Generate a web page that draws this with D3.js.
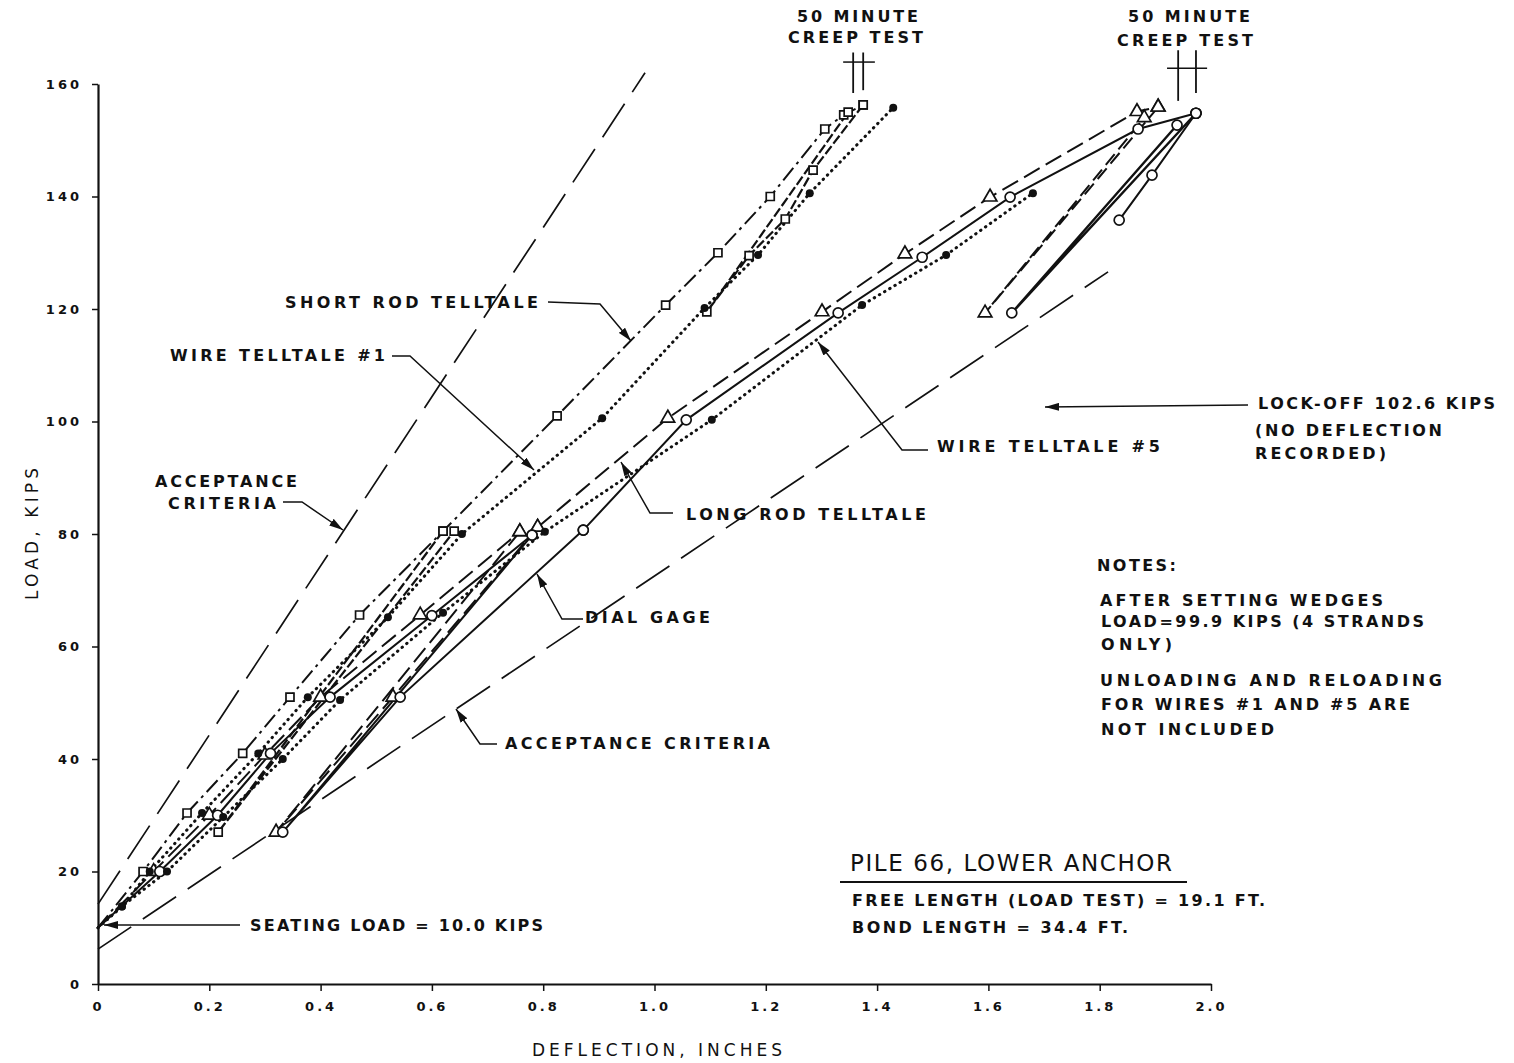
<!DOCTYPE html>
<html>
<head>
<meta charset="utf-8">
<script src="https://cdn.jsdelivr.net/npm/d3@7"></script>
<style>
  body { margin: 0; background: #fff; }
  text { font-family: "DejaVu Sans", sans-serif; fill: #111; }
  .lbl { font-weight: bold; font-size: 16px; }
  .tick text { font-weight: bold; font-size: 13px; letter-spacing: 3px; }
</style>
</head>
<body>
<script>
// ---- data (deflection in inches, load in kips) ----
const xTicks = [0, 0.2, 0.4, 0.6, 0.8, 1.0, 1.2, 1.4, 1.6, 1.8, 2.0];
const xTickLabels = ["0", "0.2", "0.4", "0.6", "0.8", "1.0", "1.2", "1.4", "1.6", "1.8", "2.0"];
const yTicks = [0, 20, 40, 60, 80, 100, 120, 140, 160];

const acceptUpper = [[0, 14.2], [0.983, 162]];
const acceptLower = [[0, 6.2], [1.815, 126.6]];

const shortRod = [[0, 10], [0.081, 20], [0.16, 30.4], [0.26, 41], [0.345, 51], [0.47, 65.6], [0.62, 80.5],
  [0.825, 101], [1.02, 120.7], [1.114, 130], [1.208, 140], [1.306, 152], [1.34, 154.5], [1.375, 156.3]];
const shortRodCycle1 = [[0.62, 80.5], [0.216, 27], [0.64, 80.5]];
const shortRodCycle2 = [[1.375, 156.3], [1.285, 144.7], [1.235, 136], [1.17, 129.5], [1.094, 119.5], [1.348, 155]];

const wire1 = [[0, 10], [0.043, 13.8], [0.093, 20], [0.187, 30.4], [0.288, 41], [0.377, 51], [0.521, 65.2],
  [0.654, 80], [0.906, 100.6], [1.09, 120.2], [1.186, 129.6], [1.279, 140.6], [1.429, 155.8]];

const longRod = [[0, 10], [0.1, 20], [0.2, 30], [0.3, 40.7], [0.4, 51], [0.579, 65.6], [0.758, 80.4]];
const longRodCycle1 = [[0.758, 80.4], [0.32, 27], [0.53, 51], [0.79, 81.2]];
const longRodReload = [[0.79, 81.2], [1.024, 100.6], [1.301, 119.5], [1.45, 129.8], [1.603, 139.9], [1.867, 155.1], [1.905, 155.9]];
const longRodCycle2 = [[1.905, 155.9], [1.594, 119.3], [1.88, 154]];

const dialGage = [[0, 10], [0.111, 20], [0.215, 30], [0.31, 41], [0.417, 51], [0.6, 65.5], [0.78, 79.8]];
const dialGageCycle1 = [[0.78, 79.8], [0.332, 27], [0.543, 51], [0.872, 80.7]];
const dialGageReload = [[0.872, 80.7], [1.057, 100.3], [1.33, 119.3], [1.481, 129.2], [1.639, 139.9], [1.869, 152], [1.973, 154.8]];
const dialGageUnload = [[1.973, 154.8], [1.894, 143.8], [1.835, 135.8]];
const dialGageCycle2 = [[1.973, 154.8], [1.642, 119.3], [1.939, 152.7]];

const wire5 = [[0, 10], [0.043, 13.8], [0.124, 20], [0.225, 29.7], [0.332, 40], [0.435, 50.5], [0.62, 66],
  [0.803, 80.4], [1.103, 100.3], [1.373, 120.7], [1.524, 129.6], [1.68, 140.6]];

// 50 minute creep test readings
const creepX = [1.357, 1.375, 1.941, 1.973];
const creepLow = [158.4, 158.9, 157.0, 158.4];
const creepHigh = [165.6, 165.6, 166.0, 166.0];
const creepBars = [[1.339, 1.396, 163.9], [1.921, 1.993, 162.8]];

// ---- layout ----
const W = 1514, H = 1063;
const x = d3.scaleLinear().domain([0, 2]).range([98, 1211]);
const y = d3.scaleLinear().domain([0, 160]).range([984, 84]);

const svg = d3.select("body").append("svg")
  .attr("width", W)
  .attr("height", H);

svg.append("defs").append("marker")
  .attr("id", "arr")
  .attr("viewBox", "0 0 14 8")
  .attr("refX", 14).attr("refY", 4)
  .attr("markerWidth", 14).attr("markerHeight", 8)
  .attr("markerUnits", "userSpaceOnUse")
  .attr("orient", "auto")
  .append("path").attr("d", "M0,0 L14,4 L0,8 Z").attr("fill", "#111");

// axes
const xAxis = svg.append("g")
  .attr("transform", "translate(0,984)")
  .call(d3.axisBottom(x).tickValues(xTicks).tickSize(7).tickSizeOuter(0).tickPadding(11)
    .tickFormat((d, i) => xTickLabels[i]));
const yAxis = svg.append("g")
  .attr("transform", "translate(98,0)")
  .call(d3.axisLeft(y).tickValues(yTicks).tickSize(6).tickSizeOuter(0).tickPadding(10));
[xAxis, yAxis].forEach(g => {
  g.select(".domain").attr("stroke", "#111").attr("stroke-width", 2.2);
  g.selectAll(".tick line").attr("stroke", "#111").attr("stroke-width", 1.5);
  g.selectAll(".tick text").attr("fill", "#111");
});

svg.append("text")
  .attr("transform", "translate(38,534) rotate(-90)")
  .attr("text-anchor", "middle")
  .attr("font-size", 17)
  .attr("textLength", 132).attr("lengthAdjust", "spacing")
  .text("LOAD, KIPS");
svg.append("text")
  .attr("x", 532).attr("y", 1056)
  .attr("font-size", 17)
  .attr("textLength", 250).attr("lengthAdjust", "spacing")
  .text("DEFLECTION, INCHES");

// series
const line = d3.line().x(d => x(d[0])).y(d => y(d[1]));

function drawLine(pts, dash, width) {
  svg.append("path")
    .datum(pts)
    .attr("d", line)
    .attr("fill", "none")
    .attr("stroke", "#111")
    .attr("stroke-width", width)
    .attr("stroke-linecap", dash === "dot" ? "round" : "butt")
    .attr("stroke-dasharray", dash === "dot" ? "0.5,5.5" : dash);
}

function drawMarks(pts, kind) {
  const g = svg.append("g");
  const data = pts.filter(d => d[0] > 0);
  if (kind === "dot") {
    g.selectAll("circle").data(data).enter().append("circle")
      .attr("cx", d => x(d[0])).attr("cy", d => y(d[1])).attr("r", 4).attr("fill", "#111");
  } else if (kind === "circle") {
    g.selectAll("circle").data(data).enter().append("circle")
      .attr("cx", d => x(d[0])).attr("cy", d => y(d[1])).attr("r", 5)
      .attr("fill", "#fff").attr("stroke", "#111").attr("stroke-width", 1.7);
  } else {
    const sym = kind === "tri" ? d3.symbolTriangle : d3.symbolSquare;
    g.selectAll("path").data(data).enter().append("path")
      .attr("transform", d => `translate(${x(d[0])},${y(d[1])})`)
      .attr("d", d3.symbol().type(sym).size(kind === "tri" ? 80 : 64))
      .attr("fill", "#fff").attr("stroke", "#111").attr("stroke-width", 1.7);
  }
}

drawLine(acceptUpper, "40,14", 1.7);
drawLine(acceptLower, "40,14", 1.7);

drawLine(shortRod, "16,5,3,5", 2);
drawLine(shortRodCycle1, "10,3", 2.2);
drawLine(shortRodCycle2, "10,3", 2.2);
drawLine(wire1, "dot", 3);
drawLine(longRod, "18,7", 2);
drawLine(longRodCycle1, "18,7", 2);
drawLine(longRodReload, "18,7", 2);
drawLine(longRodCycle2, "14,6", 2);
drawLine(dialGage, null, 2);
drawLine(dialGageCycle1, null, 2);
drawLine(dialGageReload, null, 2);
drawLine(dialGageUnload, null, 2);
drawLine(dialGageCycle2, null, 2.4);
drawLine(wire5, "dot", 3);

drawMarks(shortRod, "square");
drawMarks(shortRodCycle1, "square");
drawMarks(shortRodCycle2, "square");
drawMarks(longRod, "tri");
drawMarks(longRodCycle1, "tri");
drawMarks(longRodReload, "tri");
drawMarks(longRodCycle2, "tri");
drawMarks(dialGage, "circle");
drawMarks(dialGageCycle1, "circle");
drawMarks(dialGageReload, "circle");
drawMarks(dialGageUnload, "circle");
drawMarks(dialGageCycle2, "circle");
drawMarks(wire1, "dot");
drawMarks(wire5, "dot");

// creep test marks
creepX.forEach((cx, i) => {
  svg.append("line")
    .attr("x1", x(cx)).attr("x2", x(cx))
    .attr("y1", y(creepLow[i])).attr("y2", y(creepHigh[i]))
    .attr("stroke", "#111").attr("stroke-width", 1.8);
});
creepBars.forEach(b => {
  svg.append("line")
    .attr("x1", x(b[0])).attr("x2", x(b[1]))
    .attr("y1", y(b[2])).attr("y2", y(b[2]))
    .attr("stroke", "#111").attr("stroke-width", 1.5);
});

// callout text
const labels = [
  ["SHORT ROD TELLTALE", 285, 302, 253],
  ["WIRE TELLTALE #1", 170, 355, 215],
  ["ACCEPTANCE", 155, 481, 142],
  ["CRITERIA", 168, 503, 108],
  ["LONG ROD TELLTALE", 686, 514, 240],
  ["WIRE TELLTALE #5", 937, 446, 223],
  ["DIAL GAGE", 585, 617, 125],
  ["ACCEPTANCE CRITERIA", 505, 743, 265],
  ["SEATING LOAD = 10.0 KIPS", 250, 925, 293],
  ["LOCK-OFF 102.6 KIPS", 1258, 403, 237],
  ["(NO DEFLECTION", 1255, 430, 187],
  ["RECORDED)", 1255, 453, 131],
  ["NOTES:", 1097, 565, 79],
  ["AFTER SETTING WEDGES", 1100, 600, 283],
  ["LOAD=99.9 KIPS (4 STRANDS", 1101, 621, 323],
  ["ONLY)", 1101, 644, 71],
  ["UNLOADING AND RELOADING", 1100, 680, 342],
  ["FOR WIRES #1 AND #5 ARE", 1101, 704, 309],
  ["NOT INCLUDED", 1101, 729, 173],
  ["50 MINUTE", 797, 16, 121],
  ["CREEP TEST", 788, 37, 135],
  ["50 MINUTE", 1128, 16, 122],
  ["CREEP TEST", 1117, 40, 136],
  ["FREE LENGTH (LOAD TEST) = 19.1 FT.", 852, 900, 413],
  ["BOND LENGTH = 34.4 FT.", 852, 927, 276]
];
svg.append("g").selectAll("text").data(labels).enter().append("text")
  .attr("class", "lbl")
  .attr("x", d => d[1]).attr("y", d => d[2])
  .attr("dy", "0.36em")
  .attr("textLength", d => d[3]).attr("lengthAdjust", "spacing")
  .text(d => d[0]);

svg.append("text")
  .attr("x", 850).attr("y", 863).attr("dy", "0.36em")
  .attr("font-family", "Liberation Sans, Arial, sans-serif")
  .attr("font-size", 23)
  .attr("textLength", 322).attr("lengthAdjust", "spacing")
  .text("PILE 66, LOWER ANCHOR");
svg.append("line")
  .attr("x1", 840).attr("x2", 1187).attr("y1", 882).attr("y2", 882)
  .attr("stroke", "#111").attr("stroke-width", 2);

// leader lines with arrows
const leaders = [
  [[548, 302], [600, 304], [631, 341]],
  [[392, 356], [410, 356], [534, 470]],
  [[283, 502], [302, 502], [343, 530]],
  [[673, 513], [650, 513], [621, 462]],
  [[928, 450], [902, 450], [818, 342]],
  [[583, 619], [562, 619], [537, 574]],
  [[497, 744], [480, 744], [456, 709]],
  [[240, 925], [104, 925]],
  [[1248, 405], [1045, 407]]
];
svg.append("g").selectAll("path").data(leaders).enter().append("path")
  .attr("d", d3.line())
  .attr("fill", "none")
  .attr("stroke", "#111")
  .attr("stroke-width", 1.5)
  .attr("marker-end", "url(#arr)");
</script>
</body>
</html>
